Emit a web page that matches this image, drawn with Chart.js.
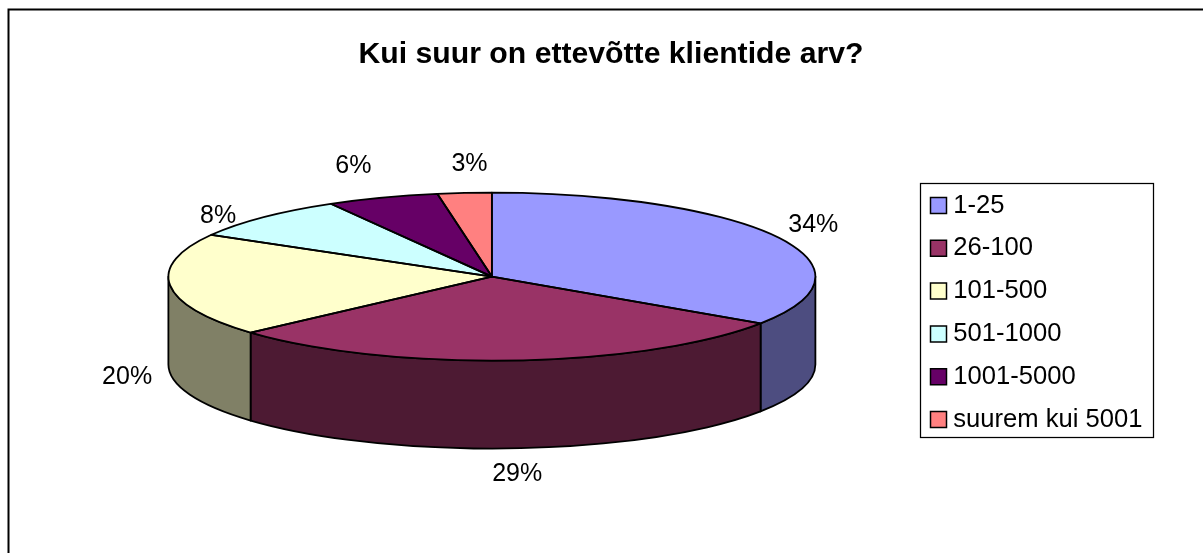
<!DOCTYPE html>
<html><head><meta charset="utf-8">
<style>html,body{margin:0;padding:0;background:#fff;overflow:hidden}canvas{display:block}</style>
<script src="https://cdn.jsdelivr.net/npm/chart.js@4"></script>
</head><body><canvas id="c" width="1203" height="553"></canvas>
<script>
const titleText = 'Kui suur on ettevõtte klientide arv?';
const categories = ['1-25','26-100','101-500','501-1000','1001-5000','suurem kui 5001'];
const shares = [34.4,29,19.9,8.4,5.6,2.7];
const topColors = ['#9999FF','#993366','#FFFFCC','#CCFFFF','#660066','#FF8080'];
const sideColors = ['#4D4D80','#4D1A33','#808066','#668080','#330033','#804040'];
const labelNudges = [[36,-12],[3,26],[-43,4],[-45,-1],[-29,-31],[5,-29]];

const radiusX = 323.5, radiusY = 84, depth = 88;
const FONT = '"Liberation Sans", Arial, sans-serif';

const pie3d = {
  id:'pie3d',
  beforeDraw(chart){
    const ctx = chart.ctx;
    ctx.save();
    ctx.fillStyle='#fff'; ctx.fillRect(0,0,chart.width,chart.height);
    ctx.strokeStyle='#000'; ctx.lineWidth=2;
    ctx.strokeRect(8.5,9.5,1400,900);
    ctx.lineWidth=1.25;
    ctx.strokeRect(920.5,183.5,233,254);
    ctx.restore();
  },
  afterLayout(chart){
    const lg = chart.legend, w = lg.width, h = lg.height;
    lg.left = 919.3; lg.right = lg.left + w;
    lg.top = 312.5 - h/2; lg.bottom = lg.top + h;
    chart.titleBlock.left += 2.5; chart.titleBlock.right += 2.5;
  },
  beforeDatasetsDraw(chart){
    const ctx = chart.ctx, arcs = chart.getDatasetMeta(0).data, k = radiusY/radiusX;
    const cx = arcs[0].x, cy = arcs[0].y;
    ctx.save();
    ctx.strokeStyle='#000'; ctx.lineWidth=1.8; ctx.lineJoin='round';
    arcs.forEach((a,i)=>{
      const s = Math.max(a.startAngle,0), e = Math.min(a.endAngle,Math.PI);
      if (e<=s) return;
      ctx.beginPath();
      ctx.ellipse(cx,cy,radiusX,radiusY,0,s,e);
      ctx.ellipse(cx,cy+depth,radiusX,radiusY,0,e,s,true);
      ctx.closePath();
      ctx.fillStyle=sideColors[i]; ctx.fill(); ctx.stroke();
    });
    ctx.restore();
    ctx.save();
    ctx.translate(cx,cy); ctx.scale(1,k); ctx.translate(-cx,-cy);
  },
  afterDatasetsDraw(chart){
    const ctx = chart.ctx, arcs = chart.getDatasetMeta(0).data;
    ctx.restore();
    const cx = arcs[0].x, cy = arcs[0].y;
    ctx.save();
    ctx.strokeStyle='#000'; ctx.lineWidth=1.8; ctx.lineJoin='round';
    arcs.forEach(a=>{
      ctx.beginPath();
      ctx.moveTo(cx,cy);
      ctx.ellipse(cx,cy,radiusX,radiusY,0,a.startAngle,a.endAngle);
      ctx.closePath();
      ctx.stroke();
    });
    ctx.fillStyle='#000'; ctx.textAlign='center'; ctx.textBaseline='middle';
    ctx.font='25px '+FONT;
    arcs.forEach((a,i)=>{
      const m=(a.startAngle+a.endAngle)/2, sn=Math.sin(m);
      const x=cx+radiusX*Math.cos(m)+labelNudges[i][0];
      const y=cy+radiusY*sn+(sn>0?depth:0)+labelNudges[i][1];
      ctx.fillText(Math.round(shares[i])+'%',x,y);
    });
    ctx.restore();
  }
};

new Chart(document.getElementById('c'),{
  type:'pie',
  data:{labels:categories,datasets:[{data:shares,backgroundColor:topColors,borderColor:'#000',borderWidth:0,clip:false}]},
  options:{
    responsive:false,animation:false,
    radius:radiusX,
    layout:{padding:{left:62,right:48,top:0,bottom:79}},
    plugins:{
      tooltip:{enabled:false},
      title:{display:true,text:titleText,color:'#000',font:{family:FONT,size:30.2,weight:'bold'},padding:{top:36.5,bottom:6.5}},
      legend:{position:'right',
        labels:{color:'#000',font:{family:FONT,size:25.6},usePointStyle:true,pointStyle:'rect',boxWidth:4,boxHeight:16,padding:17.2,
          generateLabels(chart){
            return Chart.overrides.pie.plugins.legend.labels.generateLabels(chart).map(l=>Object.assign(l,{strokeStyle:'#000',lineWidth:1.5}));
          }}}
    }
  },
  plugins:[pie3d]
});
</script></body></html>
